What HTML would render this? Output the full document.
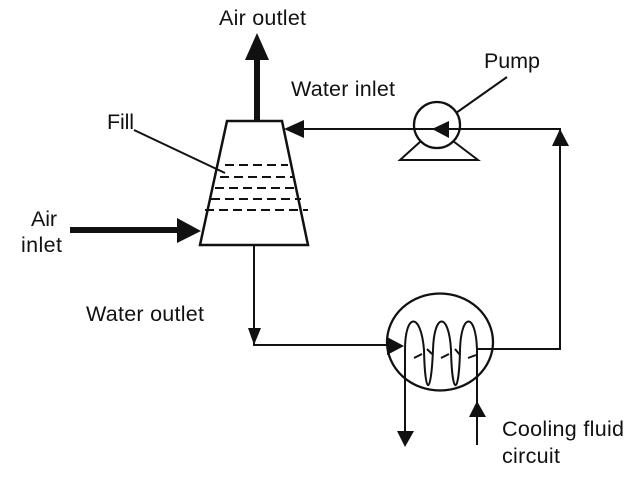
<!DOCTYPE html>
<html><head><meta charset="utf-8"><style>
html,body{margin:0;padding:0;background:#fff}
svg{display:block}
text{font-family:"Liberation Sans",Arial,sans-serif;font-size:21.5px;fill:#111}
</style></head><body>
<svg width="640" height="479" viewBox="0 0 640 479" xmlns="http://www.w3.org/2000/svg">
<g fill="none" stroke="#111" stroke-width="2">
<path d="M227 121H282L308 245H200Z" stroke-width="2.5"/>
<g stroke-dasharray="9 5">
<path d="M225 165H288M220 177H294M215 188H296M211 199H301M205 210H308"/>
</g>
<path d="M134 130L225 173"/>
<path d="M254 246V345H390"/>
<path d="M303 129H560V349H477"/>
<circle cx="437" cy="125" r="23" stroke-width="2.3"/>
<path d="M421 141L400 160H478L453 141"/>
<path d="M456 113L507 77"/>
<ellipse cx="440" cy="342" rx="53" ry="48.5" stroke-width="2.3"/>
<path d="M405 437V350C405 312 421 312 424 350C425 397 431 397 433 350C434 312 449 312 451 350C452 397 459 397 460 350C461 312 476 312 477 350V445"/>
<path d="M414 358L422 354M427 349L432 354M441 358L449 354M455 349L460 355M468 358L476 355"/>
</g>
<g fill="#111">
<rect x="254" y="58" width="6" height="64"/>
<path d="M257 33L269 60H245Z"/>
<rect x="70" y="227" width="110" height="6"/>
<path d="M201 231L177 218V243Z"/>
<path d="M284 129L304 120V138Z"/>
<path d="M432 129L449 121V138Z"/>
<path d="M560 129L569 146H552Z"/>
<path d="M254 345L248 328H261Z"/>
<path d="M404 346L387 337V355Z"/>
<path d="M405 447L397 431H414Z"/>
<path d="M477 401L469 417H486Z"/>
</g>
<text x="219" y="25" textLength="87">Air outlet</text>
<text x="291" y="96" textLength="104">Water inlet</text>
<text x="484" y="68" textLength="56">Pump</text>
<text x="107" y="129" textLength="27">Fill</text>
<text x="31" y="226" textLength="26">Air</text>
<text x="21" y="252" textLength="41">inlet</text>
<text x="86" y="321" textLength="118">Water outlet</text>
<text x="502" y="436" textLength="122">Cooling fluid</text>
<text x="502" y="463" textLength="58">circuit</text>
</svg>
</body></html>
